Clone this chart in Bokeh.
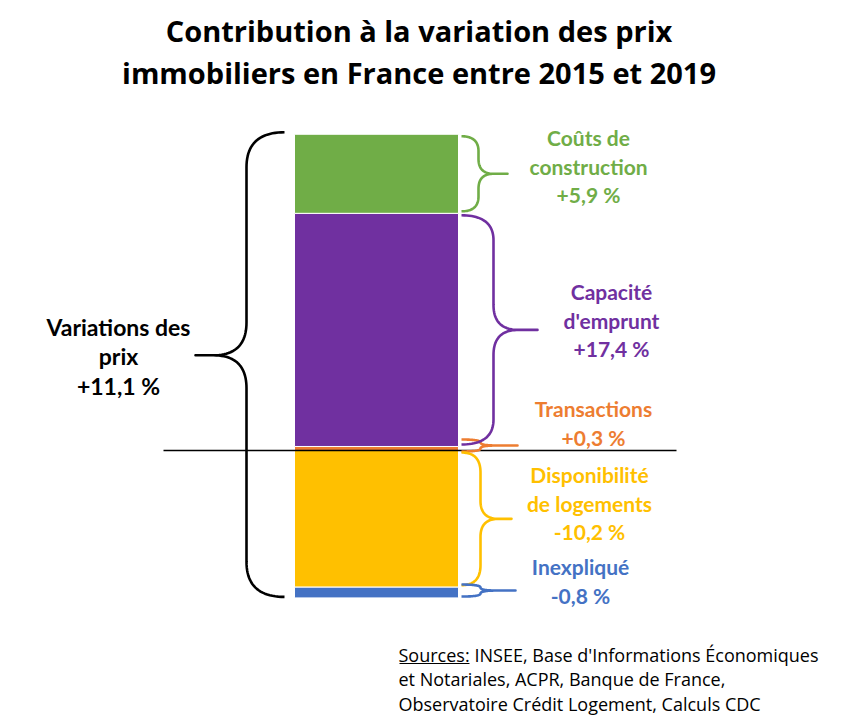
import numpy as np
from bokeh.plotting import figure
from bokeh.models import Range1d
from bokeh.core.properties import value
from bokeh.embed import file_html
from bokeh.resources import INLINE

# ---------------- data ----------------
categories = ["Transactions", "Capacité d'emprunt", "Coûts de construction",
              "Disponibilité de logements", "Inexpliqué"]
contrib = [0.3, 17.4, 5.9, -10.2, -0.8]
colors = ["#ED7D31", "#7030A0", "#70AD47", "#FFC000", "#4472C4"]
label_lines = [["Transactions", "+0,3 %"],
               ["Capacité", "d'emprunt", "+17,4 %"],
               ["Coûts de", "construction", "+5,9 %"],
               ["Disponibilité", "de logements", "-10,2 %"],
               ["Inexpliqué", "-0,8 %"]]
total_lines = ["Variations des", "prix", "+11,1 %"]
title_lines = ["Contribution à la variation des prix",
               "immobiliers en France entre 2015 et 2019"]
source_head = "Sources:"
source_lines = ["INSEE, Base d'Informations Économiques",
                "et Notariales, ACPR, Banque de France,",
                "Observatoire Crédit Logement, Calculs CDC"]

# ---------------- layout (pixel helpers) ----------------
W, H = 846, 718
Z = 450.0      # pixel row of zero
S = 13.4       # pixels per percentage point


def Y(py):
    return (Z - np.asarray(py, dtype=float)) / S


def P(v):
    return Z - S * v


LATO = value("Lato")
OPEN = value("Open Sans")

p = figure(width=W, height=H, x_range=Range1d(0, W), y_range=Range1d(Y(H), Y(0)),
           output_backend="svg", toolbar_location=None, min_border=0)
p.axis.visible = False
p.grid.visible = False
p.outline_line_color = None
p.background_fill_color = "white"

# stacked bar
pos = 0.0
neg = 0.0
bottoms, tops = [], []
for v in contrib:
    if v >= 0:
        bottoms.append(pos)
        pos += v
        tops.append(pos)
    else:
        tops.append(neg)
        neg += v
        bottoms.append(neg)

p.vbar(x=376, width=164, bottom=bottoms, top=tops, fill_color=colors,
       line_color="white", line_width=1)

# zero line
p.segment(x0=163, y0=0, x1=676, y1=0, line_color="black", line_width=1.6)


# braces
def quad(p0, c, p1, n=24):
    t = np.linspace(0, 1, n)
    x = (1 - t) ** 2 * p0[0] + 2 * (1 - t) * t * c[0] + t ** 2 * p1[0]
    y = (1 - t) ** 2 * p0[1] + 2 * (1 - t) * t * c[1] + t ** 2 * p1[1]
    return list(x), list(y)


def brace(x0, xm, xt, yt, yb, yc, rv, rt):
    sg = 1 if xm > x0 else -1
    r1 = min(rv, (yc - yt) / 2, (yb - yc) / 2)
    r2 = min(rt, (yc - yt) / 2, (yb - yc) / 2)
    xs, ys = [], []
    for a, b in [quad((x0, yt), (xm, yt), (xm, yt + r1)),
                 quad((xm, yc - r2), (xm, yc), (xm + sg * rt, yc)),
                 ([xt], [yc]),
                 quad((xm + sg * rt, yc), (xm, yc), (xm, yc + r2)),
                 quad((xm, yb - r1), (xm, yb), (x0, yb))]:
        xs += a
        ys += b
    return xs, ys


brace_xm = [480, 493, 478, 480, 480]
brace_xt = [517, 537, 507, 511, 515]
brace_rv = [3, 25, 15, 20, 3]
brace_rt = [16, 25, 15, 18, 16]
brace_shift = [-3, 0, 0, 0, -2]
for i in range(len(contrib)):
    yt = P(tops[i]) + 2
    yb = P(bottoms[i]) - 2
    if yb - yt < 12:
        c = (yt + yb) / 2 + brace_shift[i]
        yt, yb = c - 6, c + 6
    yc = (yt + yb) / 2
    xs, ys = brace(461, brace_xm[i], brace_xt[i], yt, yb, yc, brace_rv[i], brace_rt[i])
    p.line(xs, list(Y(ys)), line_color=colors[i], line_width=2.6, line_join="round")

# left big brace
yt = P(pos) - 2
yb = P(neg) - 1
yc = yt + 0.48 * (yb - yt)
xs, ys = brace(284, 246, 195, yt, yb, yc, 35, 33)
p.line(xs, list(Y(ys)), line_color="black", line_width=2.6, line_join="round")

# labels (baselines in px, corrected for renderer offset)
LAB_OFF = -9
label_x = [593, 611, 588, 589, 580]
label_y0 = [417, 300, 146, 483, 575]
for i, lines in enumerate(label_lines):
    ys = [label_y0[i] + LAB_OFF + 28.5 * k for k in range(len(lines))]
    p.text(x=[label_x[i]] * len(lines), y=list(Y(ys)), text=lines,
           text_color=colors[i], text_font=LATO, text_font_style="bold",
           text_font_size="21px", text_align="center", text_baseline="alphabetic")

ys = [335 + LAB_OFF, 364 + LAB_OFF, 394 + LAB_OFF]
p.text(x=[118] * 3, y=list(Y(ys)), text=total_lines, text_color="black",
       text_font=LATO, text_font_style="bold", text_font_size="23px",
       text_align="center", text_baseline="alphabetic")

# title
TIT_OFF = -12
p.text(x=[418.5, 418.5], y=list(Y([42 + TIT_OFF, 84 + TIT_OFF])), text=title_lines,
       text_color="black", text_font=OPEN, text_font_style="bold", text_font_size="29px",
       text_align="center", text_baseline="alphabetic")

# sources
SRC_OFF = -7
p.text(x=[398], y=list(Y([661 + SRC_OFF])), text=[source_head], text_color="black",
       text_font=OPEN, text_font_size="18px", text_align="left", text_baseline="alphabetic")
p.segment(x0=399, y0=Y(663), x1=469, y1=Y(663), line_color="black", line_width=1)
p.text(x=[474, 398, 398], y=list(Y([661 + SRC_OFF, 685.5 + SRC_OFF, 710 + SRC_OFF])),
       text=source_lines, text_color="black",
       text_font=OPEN, text_font_size="18px", text_align="left", text_baseline="alphabetic")

open("out.html", "w").write(file_html(p, INLINE))
